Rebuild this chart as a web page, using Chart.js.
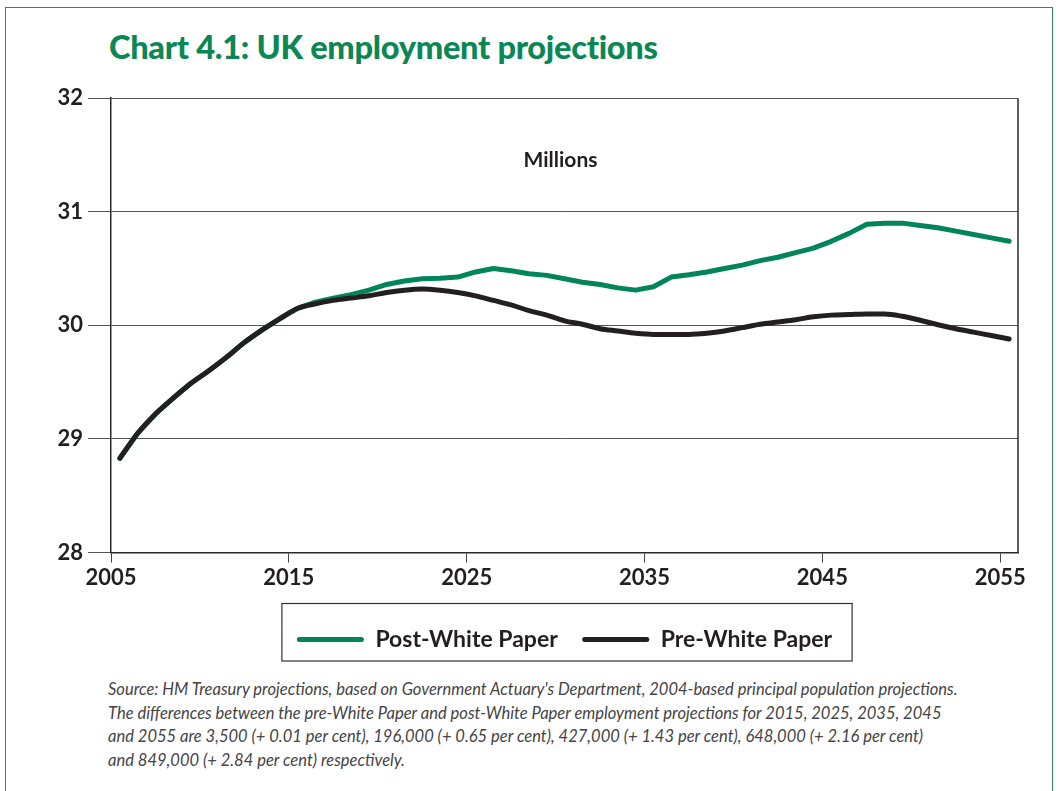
<!DOCTYPE html>
<html>
<head>
<meta charset="utf-8">
<script src="https://cdn.jsdelivr.net/npm/chart.js@4/dist/chart.umd.min.js"></script>
<style>
  html, body { margin: 0; padding: 0; background: #fff; }
  body { width: 1061px; height: 791px; position: relative; overflow: hidden; font-family: Lato, "Open Sans", sans-serif; }
  .frame { position: absolute; left: 5px; top: 7px; width: 1046px; height: 820px; border: 1px solid #2f8a5a; }
  .title { position: absolute; left: 109px; top: 27px; font: 900 32.6px Lato, sans-serif; color: #0b8755; letter-spacing: -0.3px; white-space: nowrap; }
  .wrap { position: absolute; left: 0; top: 80px; width: 1061px; height: 590px; }
  .note { position: absolute; left: 108px; top: 678px; width: 945px; font: italic 16.55px Lato, sans-serif; line-height: 23.7px; color: #444; white-space: nowrap; }
</style>
</head>
<body>
<div class="frame"></div>
<div class="title">Chart 4.1: UK employment projections</div>
<div class="wrap"><canvas id="c"></canvas></div>
<div class="note">
Source: HM Treasury projections, based on Government Actuary's Department, 2004-based principal population projections.<br>
The differences between the pre-White Paper and post-White Paper employment projections for 2015, 2025, 2035, 2045<br>
and 2055 are 3,500 (+ 0.01 per cent), 196,000 (+ 0.65 per cent), 427,000 (+ 1.43 per cent), 648,000 (+ 2.16 per cent)<br>
and 849,000 (+ 2.84 per cent) respectively.
</div>
<script>
// Employment, millions, one value per year 2005-2055
const years = [];
for (let y = 2005; y <= 2055; y++) years.push(y);

const preWhitePaper = [
  28.83, 29.05, 29.22, 29.36, 29.49, 29.60, 29.72, 29.85, 29.96, 30.06,
  30.15, 30.19, 30.22, 30.24, 30.26, 30.29, 30.31, 30.32, 30.31, 30.29,
  30.26, 30.22, 30.18, 30.13, 30.09, 30.04, 30.01, 29.97, 29.95, 29.93,
  29.92, 29.92, 29.92, 29.93, 29.95, 29.98, 30.01, 30.03, 30.05, 30.075,
  30.09, 30.095, 30.10, 30.10, 30.08, 30.045, 30.005, 29.97, 29.94, 29.91,
  29.88
];

const postWhitePaper = [
  28.83, 29.05, 29.22, 29.36, 29.49, 29.60, 29.72, 29.85, 29.96, 30.06,
  30.15, 30.205, 30.24, 30.27, 30.31, 30.36, 30.39, 30.41, 30.415, 30.425,
  30.47, 30.50, 30.48, 30.455, 30.44, 30.41, 30.38, 30.36, 30.33, 30.31,
  30.34, 30.425, 30.445, 30.47, 30.50, 30.53, 30.57, 30.60, 30.64, 30.68,
  30.74, 30.81, 30.89, 30.90, 30.90, 30.88, 30.86, 30.83, 30.80, 30.77,
  30.74
];

const xTickYears = [2005, 2015, 2025, 2035, 2045, 2055];
const yTickValues = [28, 29, 30, 31, 32];

const GREEN = '#00855a';
const BLACK = '#231f20';
const TICK_FONT = { family: 'Lato', size: 22, weight: 'bold' };

// each year's value sits in the middle of its year
const toPoints = vals => vals.map((v, i) => ({ x: years[i] + 0.5, y: v }));

// outline on the right of the plot
const plotFrame = {
  id: 'plotFrame',
  afterDraw(chart) {
    const { ctx, chartArea: a } = chart;
    ctx.save();
    ctx.strokeStyle = '#2a2a2a';
    ctx.lineWidth = 1.5;
    ctx.beginPath();
    ctx.moveTo(a.right, a.top);
    ctx.lineTo(a.right, a.bottom);
    ctx.stroke();
    ctx.restore();
  }
};

// unit caption inside the plot
const unitCaption = {
  id: 'unitCaption',
  afterDraw(chart) {
    const { ctx, chartArea: a } = chart;
    ctx.save();
    ctx.font = 'bold 21px Lato';
    ctx.fillStyle = BLACK;
    ctx.textAlign = 'center';
    ctx.textBaseline = 'middle';
    ctx.fillText('Millions', (a.left + a.right) / 2 - 4, a.top + 62);
    ctx.restore();
  }
};

// box drawn round the legend entries
const legendBox = {
  id: 'legendBox',
  afterDraw(chart) {
    const lg = chart.legend;
    if (!lg || !lg.legendHitBoxes || !lg.legendHitBoxes.length) return;
    const hb = lg.legendHitBoxes;
    const l = Math.min(...hb.map(h => h.left)) - 15;
    const r = Math.max(...hb.map(h => h.left + h.width)) + 20;
    const { ctx } = chart;
    ctx.save();
    ctx.strokeStyle = '#333';
    ctx.lineWidth = 1.2;
    ctx.strokeRect(l, lg.top, r - l, lg.bottom - lg.top);
    ctx.restore();
  }
};

new Chart(document.getElementById('c'), {
  type: 'line',
  data: {
    datasets: [
      {
        label: 'Post-White Paper',
        data: toPoints(postWhitePaper),
        borderColor: GREEN,
        backgroundColor: GREEN,
        borderWidth: 5,
        pointRadius: 0,
        tension: 0,
        borderCapStyle: 'round',
        borderJoinStyle: 'round',
        order: 1
      },
      {
        label: 'Pre-White Paper',
        data: toPoints(preWhitePaper),
        borderColor: BLACK,
        backgroundColor: BLACK,
        borderWidth: 5,
        pointRadius: 0,
        cubicInterpolationMode: 'monotone',
        borderCapStyle: 'round',
        borderJoinStyle: 'round',
        order: 0
      }
    ]
  },
  options: {
    responsive: true,
    maintainAspectRatio: false,
    animation: false,
    layout: { padding: { top: 18, right: 43, bottom: 9, left: 0 } },
    scales: {
      x: {
        type: 'linear',
        min: 2005,
        max: 2056,
        afterBuildTicks: s => { s.ticks = xTickYears.map(v => ({ value: v })); },
        afterFit: s => { s.height = 51; },
        ticks: {
          font: TICK_FONT,
          color: BLACK,
          padding: 2,
          maxRotation: 0,
          autoSkip: false,
          callback: v => String(v)
        },
        grid: {
          drawOnChartArea: false,
          drawTicks: true,
          tickLength: 10,
          tickColor: '#444',
          tickWidth: 1
        },
        border: { color: '#2a2a2a', width: 1.5 }
      },
      y: {
        min: 28,
        max: 32,
        afterBuildTicks: s => { s.ticks = yTickValues.map(v => ({ value: v })); },
        afterFit: s => { s.width = 111; },
        ticks: {
          font: TICK_FONT,
          color: BLACK,
          padding: 5,
          callback: v => String(v)
        },
        grid: {
          color: '#555',
          lineWidth: 1,
          tickLength: 23,
          tickColor: '#555'
        },
        border: { color: '#2a2a2a', width: 1.5 }
      }
    },
    plugins: {
      tooltip: { enabled: false },
      legend: {
        position: 'bottom',
        fullSize: false,
        labels: {
          font: { family: 'Lato', size: 23, weight: 'bold' },
          color: BLACK,
          boxWidth: 67,
          boxHeight: 5,
          padding: 24.5,
          useBorderRadius: true,
          borderRadius: 2.5,
          sort: (a, b) => a.datasetIndex - b.datasetIndex,
          generateLabels: chart => {
            const items = Chart.defaults.plugins.legend.labels.generateLabels(chart);
            items.forEach(it => { it.lineWidth = 0; });
            return items;
          }
        }
      }
    }
  },
  plugins: [plotFrame, unitCaption, legendBox]
});
</script>
</body>
</html>
